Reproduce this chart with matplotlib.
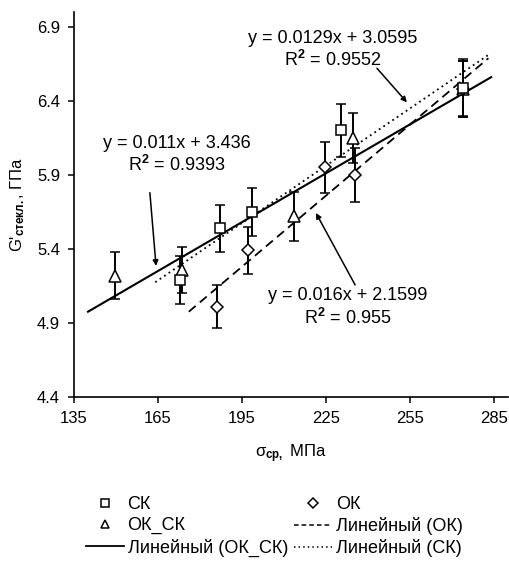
import matplotlib
matplotlib.use("Agg")
import matplotlib.pyplot as plt
from matplotlib.lines import Line2D
import numpy as np

plt.rcParams['font.family'] = ['Liberation Sans', 'DejaVu Sans']
plt.rcParams['mathtext.fontset'] = 'custom'
plt.rcParams['mathtext.rm'] = 'Liberation Sans'
plt.rcParams['mathtext.bf'] = 'Liberation Sans:bold'
plt.rcParams['mathtext.it'] = 'Liberation Sans:italic'

# data
sk_x = [173, 187, 198.5, 230.5, 274]
sk_y = [5.19, 5.54, 5.65, 6.20, 6.49]
sk_err = [0.16, 0.16, 0.16, 0.18, 0.19]

ok_x = [186, 197, 224.5, 235.5, 274]
ok_y = [5.01, 5.39, 5.95, 5.90, 6.48]
ok_err = [0.145, 0.16, 0.17, 0.18, 0.19]

oksk_x = [149.5, 173.5, 213.5, 234.5, 274]
oksk_y = [5.22, 5.26, 5.62, 6.15, 6.48]
oksk_err = [0.16, 0.155, 0.165, 0.17, 0.19]

# trend lines (slope, intercept, x range)
fit_sk = (0.0129, 3.0595, 164, 283)
fit_ok = (0.016, 2.1599, 176, 283)
fit_oksk = (0.011, 3.436, 140, 284)

x_ticks = [135, 165, 195, 225, 255, 285]
y_ticks = [4.4, 4.9, 5.4, 5.9, 6.4, 6.9]

fig = plt.figure(figsize=(5.10, 5.62), dpi=100)
ax = fig.add_axes([74/510, 1 - 397/562, (508 - 74)/510, (397 - 12)/562])

def trend(fit, **kw):
    k, b, x0, x1 = fit
    xs = np.array([x0, x1])
    ax.plot(xs, k * xs + b, color='black', **kw)

trend(fit_oksk, lw=1.5, ls='-')
trend(fit_ok, lw=1.3, ls=(0, (5, 3)))
trend(fit_sk, lw=1.3, ls=(0, (1, 2)))

eb = dict(color='black', ecolor='black', elinewidth=1.4, capsize=3.5, capthick=1.4,
          mfc='white', mec='black', mew=1.1, ls='none')
ax.errorbar(oksk_x, oksk_y, yerr=oksk_err, marker='^', ms=8, **eb)
ax.errorbar(ok_x, ok_y, yerr=ok_err, marker='D', ms=6, **eb)
ax.errorbar(sk_x, sk_y, yerr=sk_err, marker='s', ms=7, **eb)

ax.set_xlim(135, 290)
ax.set_ylim(4.4, 7.0)
ax.set_xticks(x_ticks)
ax.set_yticks(y_ticks)
ax.set_yticklabels([f"{v:.1f}" for v in y_ticks])
ax.spines['top'].set_visible(False)
ax.spines['right'].set_visible(False)
ax.spines['left'].set_linewidth(1.2)
ax.spines['bottom'].set_linewidth(1.2)
ax.tick_params(direction='out', length=4, width=1.1, labelsize=12, pad=6)

ax.set_xlabel("σ$_{\\mathbf{ср,}}$ МПа", fontsize=12, labelpad=12)
ax.set_ylabel("G'$_{\\mathbf{стекл.}}$, ГПа", fontsize=12, labelpad=6)
ax.yaxis.set_label_coords(-0.108, 0.50)

fs = 13
ax.text(227.5, 6.745, "y = 0.0129x + 3.0595\nR$^{\\mathbf{2}}$ = 0.9552", ha='center', va='center',
        fontsize=fs, linespacing=1.2)
ax.text(171.8, 6.035, "y = 0.011x + 3.436\nR$^{\\mathbf{2}}$ = 0.9393", ha='center', va='center',
        fontsize=fs, linespacing=1.2)
ax.text(232.9, 5.005, "y = 0.016x + 2.1599\nR$^{\\mathbf{2}}$ = 0.955", ha='center', va='center',
        fontsize=fs, linespacing=1.2)

arr = dict(arrowstyle='-|>', color='black', lw=1.1, mutation_scale=8, shrinkA=0, shrinkB=0)
ax.annotate('', xy=(253.9, 6.39), xytext=(243.2, 6.62), arrowprops=arr)
ax.annotate('', xy=(164.3, 5.285), xytext=(162.1, 5.78), arrowprops=arr)
ax.annotate('', xy=(221.4, 5.643), xytext=(235.4, 5.157), arrowprops=arr)

handles = [
    Line2D([], [], ls='none', marker='s', ms=6, mfc='white', mec='black', mew=1.1),
    Line2D([], [], ls='none', marker='^', ms=6, mfc='white', mec='black', mew=1.1),
    Line2D([], [], color='black', lw=1.3, ls='-'),
    Line2D([], [], ls='none', marker='D', ms=5, mfc='white', mec='black', mew=1.1),
    Line2D([], [], color='black', lw=1.1, ls=(0, (3, 2))),
    Line2D([], [], color='black', lw=1.1, ls=(0, (1, 2))),
]
labels = ['СК', 'ОК_СК', 'Линейный (ОК_СК)', 'ОК', 'Линейный (ОК)', 'Линейный (СК)']
fig.legend(handles, labels, ncol=2, loc='upper center', bbox_to_anchor=(0.538, 0.133),
           frameon=False, fontsize=13, handlelength=2.1, handletextpad=0.2,
           columnspacing=0.35, labelspacing=0.22, borderpad=0)

fig.savefig('out.png', dpi=100)
